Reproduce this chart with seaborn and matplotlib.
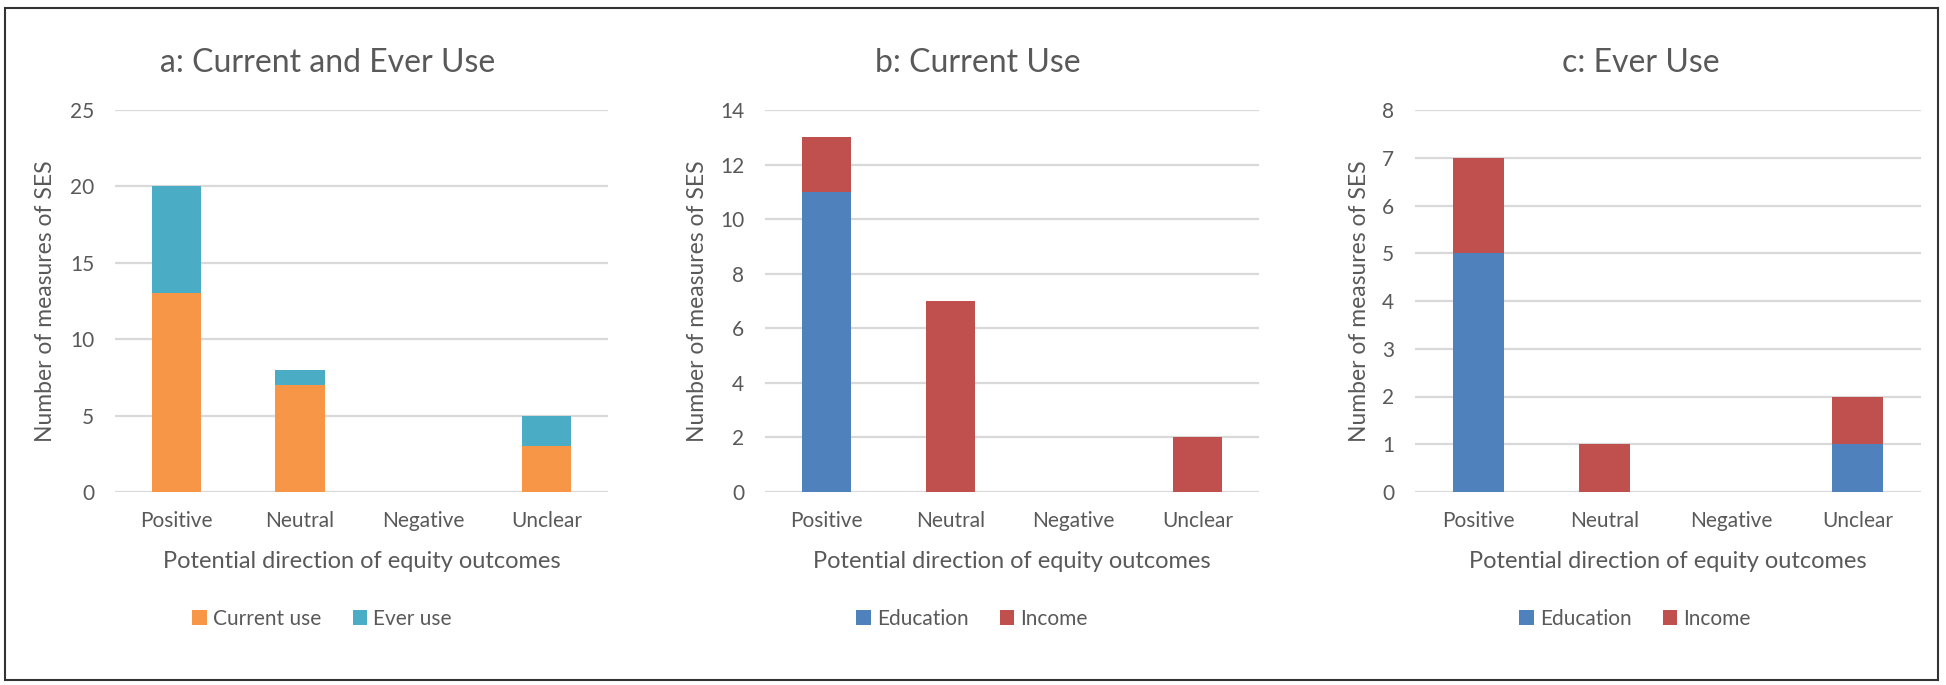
import matplotlib
matplotlib.use("Agg")
import matplotlib.pyplot as plt
from matplotlib.patches import Patch, Rectangle
import seaborn as sns
import pandas as pd

categories = ["Positive", "Neutral", "Negative", "Unclear"]

# panel a
current_use = [13, 7, 0, 3]
ever_use = [7, 1, 0, 2]
# panel b
b_education = [11, 0, 0, 0]
b_income = [2, 7, 0, 2]
# panel c
c_education = [5, 0, 0, 1]
c_income = [2, 1, 0, 1]

ORANGE = "#F79646"
TEAL = "#4BACC6"
BLUE = "#4F81BD"
RED = "#C0504D"
TXT = "#595959"
GRID = "#D9D9D9"

sns.set_theme(style="white")
plt.rcParams["font.family"] = ["Lato", "DejaVu Sans"]

fig = plt.figure(figsize=(19.46, 6.85), dpi=100)
W, H = 1946, 685

panels = [
    dict(title="a: Current and Ever Use", lower=current_use, upper=ever_use,
         names=("Current use", "Ever use"), colors=(ORANGE, TEAL),
         ymax=25, step=5, left=115, right=608, tx=328, lx=322, ylx=46),
    dict(title="b: Current Use", lower=b_education, upper=b_income,
         names=("Education", "Income"), colors=(BLUE, RED),
         ymax=14, step=2, left=765, right=1259, tx=978, lx=972, ylx=698),
    dict(title="c: Ever Use", lower=c_education, upper=c_income,
         names=("Education", "Income"), colors=(BLUE, RED),
         ymax=8, step=1, left=1415, right=1921, tx=1641, lx=1635, ylx=1360),
]

top, bottom = 110, 492

for p in panels:
    ax = fig.add_axes([p["left"] / W, 1 - bottom / H,
                       (p["right"] - p["left"]) / W, (bottom - top) / H])
    df = pd.DataFrame({"cat": categories, "lower": p["lower"], "upper": p["upper"]})
    df["total"] = df["lower"] + df["upper"]
    # stacked: draw totals first, then the lower segment over them
    sns.barplot(data=df, x="cat", y="total", order=categories, color=p["colors"][1],
                width=0.4, saturation=1, linewidth=0, ax=ax, zorder=3)
    sns.barplot(data=df, x="cat", y="lower", order=categories, color=p["colors"][0],
                width=0.4, saturation=1, linewidth=0, ax=ax, zorder=3)
    ax.set_xlim(-0.5, 3.5)
    ax.set_ylim(0, p["ymax"])
    ax.set_yticks(range(0, p["ymax"] + 1, p["step"]))
    ax.grid(axis="y", color=GRID, linewidth=1.6, zorder=0)
    ax.set_axisbelow(True)
    for s in ax.spines.values():
        s.set_visible(False)
    ax.tick_params(axis="both", length=0, labelsize=15, colors=TXT)
    ax.tick_params(axis="x", pad=14)
    ax.tick_params(axis="y", pad=15)
    ax.set_xlabel("Potential direction of equity outcomes", fontsize=17, color=TXT)
    ax.xaxis.set_label_coords(0.5, (bottom - 561) / (bottom - top))
    ax.xaxis.label.set_va("center")
    ax.set_ylabel("Number of measures of SES", fontsize=16.5, color=TXT)
    ax.yaxis.set_label_coords((p["ylx"] - p["left"]) / (p["right"] - p["left"]), 0.5)
    ax.yaxis.label.set_va("center")

    fig.text(p["tx"] / W, 1 - 63 / H, p["title"], fontsize=23, color=TXT,
             ha="center", va="center")
    handles = [Patch(facecolor=c, edgecolor="none") for c in p["colors"]]
    fig.legend(handles, p["names"], loc="center", ncol=2, frameon=False,
               bbox_to_anchor=(p["lx"] / W, 1 - 619 / H), fontsize=15,
               labelcolor=TXT, handlelength=0.7, handleheight=0.7,
               handletextpad=0.3, columnspacing=1.5)

fig.patches.append(Rectangle((5 / W, 5 / H), 1933 / W, 672 / H, transform=fig.transFigure,
                             fill=False, edgecolor="#333333", linewidth=1.5))

fig.savefig("out.png", dpi=100)
